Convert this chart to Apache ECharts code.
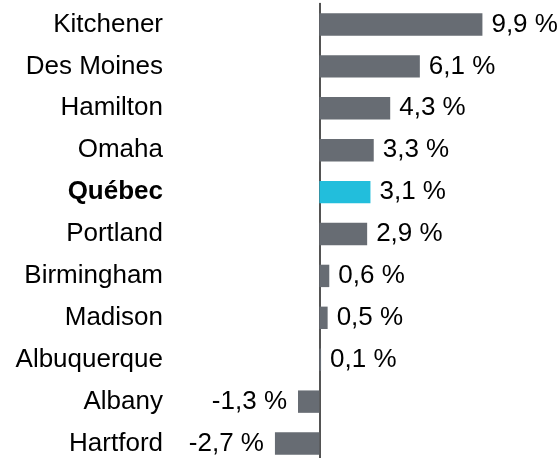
<!DOCTYPE html>
<html>
<head>
<meta charset="utf-8">
<script src="https://cdn.jsdelivr.net/npm/echarts@6/dist/echarts.min.js"></script>
<style>html,body{margin:0;padding:0;background:#fff;}#c{width:560px;height:458px;}</style>
</head>
<body>
<div id="c"></div>
<script>
var categories = ['Kitchener','Des Moines','Hamilton','Omaha','Québec','Portland','Birmingham','Madison','Albuquerque','Albany','Hartford'];
var values = [9.9, 6.1, 4.3, 3.3, 3.1, 2.9, 0.6, 0.5, 0.1, -1.3, -2.7];
var highlight = 'Québec';

var FONT = '"Liberation Sans", Arial, sans-serif';
var chart = echarts.init(document.getElementById('c'), null, {renderer: 'canvas'});
function fmt(v){ return v.toFixed(1).replace('.', ',') + ' %'; }
var data = values.map(function(v, i){
  return {
    value: v,
    itemStyle: {color: categories[i] === highlight ? '#22bedc' : '#676c73'},
    label: {position: v < 0 ? 'left' : 'right', distance: v < 0 ? 11 : 9}
  };
});
chart.setOption({
  animation: false,
  grid: {left: 270, width: 247, top: 3.5, bottom: -6.5, containLabel: false, outerBoundsMode: 'none'},
  xAxis: {type: 'value', min: -3, max: 12, show: false},
  yAxis: {
    type: 'category', data: categories, inverse: true,
    axisLine: {show: true, onZero: true, lineStyle: {color: '#1a1a1a', width: 1.5}},
    axisTick: {show: false},
    axisLabel: {
      margin: 107, fontSize: 26, color: '#000', fontFamily: FONT,
      formatter: function(v){ return v === highlight ? '{b|' + v + '}' : v; },
      rich: {b: {fontWeight: 'bold', fontSize: 26, color: '#000', fontFamily: FONT}}
    }
  },
  series: [{
    type: 'bar', data: data, barWidth: 22.4,
    label: {show: true, fontSize: 26, color: '#000', fontFamily: FONT,
      formatter: function(p){ return fmt(p.value); }}
  }]
});
</script>
</body>
</html>
